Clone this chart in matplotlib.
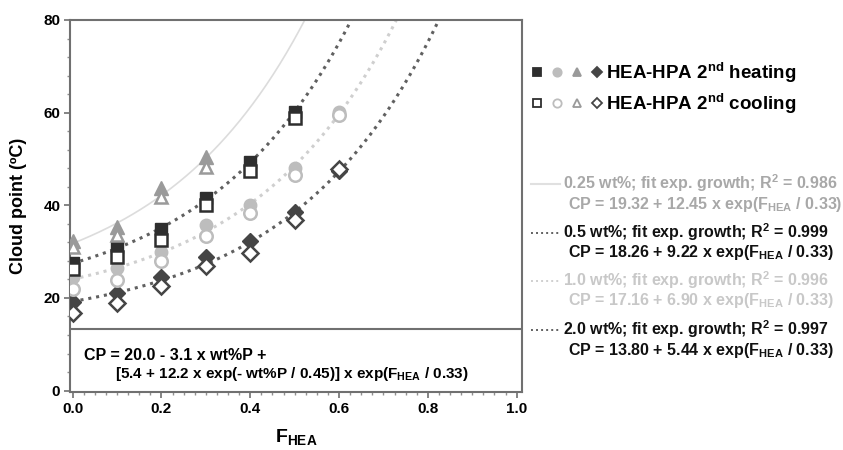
import numpy as np
import matplotlib
matplotlib.use("Agg")
import matplotlib.pyplot as plt
from matplotlib.ticker import MultipleLocator

plt.rcParams['font.family'] = ['Liberation Sans', 'DejaVu Sans']
plt.rcParams['font.weight'] = 'bold'
plt.rcParams['mathtext.fontset'] = 'custom'
plt.rcParams['mathtext.rm'] = 'Liberation Sans:bold'
plt.rcParams['mathtext.bf'] = 'Liberation Sans:bold'
plt.rcParams['mathtext.it'] = 'Liberation Sans:bold'

# ---- data ----
f_tri = [0.0, 0.1, 0.2, 0.3]
tri_heat = [32.3, 35.3, 43.7, 50.5]
tri_cool = [31.0, 33.6, 41.7, 48.3]

f_sq = [0.0, 0.1, 0.2, 0.3, 0.4, 0.5]
sq_heat = [27.6, 31.1, 34.8, 41.5, 49.4, 60.2]
sq_cool = [26.3, 28.9, 32.5, 40.1, 47.3, 58.8]

f_ci = [0.0, 0.1, 0.2, 0.3, 0.4, 0.5, 0.6]
ci_heat = [24.6, 26.5, 30.0, 35.8, 40.1, 48.0, 60.2]
ci_cool = [22.0, 23.9, 27.9, 33.3, 38.3, 46.6, 59.6]

f_di = [0.0, 0.1, 0.2, 0.3, 0.4, 0.5, 0.6]
di_heat = [19.2, 21.0, 24.6, 28.9, 32.2, 38.6, 47.3]
di_cool = [16.8, 18.9, 22.5, 26.8, 29.7, 36.9, 47.8]

# fit parameters (from legend): CP = a + b * exp(F / t)
fit_wt = ['0.25', '0.5', '1.0', '2.0']
fit_a = [19.32, 18.26, 17.16, 13.80]
fit_b = [12.45, 9.22, 6.90, 5.44]
fit_t = [0.33, 0.33, 0.33, 0.33]
fit_r2 = ['0.986', '0.999', '0.996', '0.997']

x_ticks = [0.0, 0.2, 0.4, 0.6, 0.8, 1.0]
y_ticks = [0, 20, 40, 60, 80]

# ---- style ----
c_sq = '#2e2e2e'
c_ci = '#bdbdbd'
c_tri = '#9a9a9a'
c_di = '#454545'
fit_colors = ['#dcdcdc', '#606060', '#cfcfcf', '#606060']
fit_styles = ['-', (0, (1, 1.6)), (0, (1, 1.6)), (0, (1, 1.6))]
fit_lw = [1.2, 2.2, 2.2, 2.2]
text_colors = ['#a8a8a8', '#111111', '#c8c8c8', '#111111']

fig = plt.figure(figsize=(8.43, 4.5), dpi=100)
ax = fig.add_axes([70/843, 1-392/450, (522-70)/843, (392-20)/450])
ax.set_xlim(-0.006, 1.012)
ax.set_ylim(-0.3, 80)

F = np.linspace(0, 1, 400)
for i in range(4):
    ax.plot(F, fit_a[i] + fit_b[i]*np.exp(F/fit_t[i]), color=fit_colors[i],
            ls=fit_styles[i], lw=fit_lw[i], zorder=1)

ms = 9
mew = 1.8
ax.plot(f_tri, tri_heat, ls='none', marker='^', ms=ms+1, color=c_tri, mec=c_tri, zorder=3)
ax.plot(f_tri, tri_cool, ls='none', marker='^', ms=ms, mfc='white', mec=c_tri, mew=mew, zorder=4)
ax.plot(f_sq, sq_heat, ls='none', marker='s', ms=ms, color=c_sq, mec=c_sq, zorder=3)
ax.plot(f_sq, sq_cool, ls='none', marker='s', ms=ms-1, mfc='white', mec=c_sq, mew=mew, zorder=4)
ax.plot(f_ci, ci_heat, ls='none', marker='o', ms=ms, color=c_ci, mec=c_ci, zorder=3)
ax.plot(f_ci, ci_cool, ls='none', marker='o', ms=ms, mfc='white', mec=c_ci, mew=mew, zorder=4)
ax.plot(f_di, di_heat, ls='none', marker='D', ms=ms-1, color=c_di, mec=c_di, zorder=3)
ax.plot(f_di, di_cool, ls='none', marker='D', ms=ms-1, mfc='white', mec=c_di, mew=mew, zorder=4)

ax.axhline(13.4, color='#707070', lw=1.5, zorder=2)
ax.text(0.025, 7.6, 'CP = 20.0 - 3.1 x wt%P +', fontsize=11.5, fontweight='bold', va='center')
ax.text(0.095, 3.6, '[5.4 + 12.2 x exp(- wt%P / 0.45)] x exp(F$_{\\mathrm{HEA}}$ / 0.33)',
        fontsize=11, fontweight='bold', va='center')

for s in ax.spines.values():
    s.set_color('#707070')
    s.set_linewidth(1.5)
ax.set_xticks(x_ticks)
ax.set_xticklabels([f'{v:.1f}' for v in x_ticks])
ax.set_yticks(y_ticks)
ax.set_yticklabels([str(v) for v in y_ticks])
ax.xaxis.set_minor_locator(MultipleLocator(0.025))
ax.yaxis.set_minor_locator(MultipleLocator(4))
ax.tick_params(which='major', length=4, width=1.2, color='#707070', labelsize=11, pad=3)
ax.tick_params(which='minor', length=2.5, width=1.0, color='#909090')
for lab in ax.get_xticklabels() + ax.get_yticklabels():
    lab.set_fontweight('bold')

ax.set_ylabel('Cloud point (ºC)', fontsize=13, fontweight='bold', labelpad=12)
ax.set_xlabel('F$_{\\mathrm{HEA}}$', fontsize=14, fontweight='bold', labelpad=8)

# ---- legend (right side) ----
def fx(px):
    return px / 843
def fy(py):
    return 1 - py / 450

mk_x = [537, 557, 577, 597]
mk_specs = [('s', c_sq), ('o', c_ci), ('^', c_tri), ('D', c_di)]
for row, (py, filled) in enumerate([(72, True), (103, False)]):
    for (m, c), px in zip(mk_specs, mk_x):
        fig.lines.append(matplotlib.lines.Line2D([fx(px)], [fy(py)], ls='none', marker=m,
                         ms=6 if m != 'D' else 5.5, mfc=c if filled else 'white', mec=c,
                         mew=1.3, transform=fig.transFigure))
fig.text(fx(606), fy(73), 'HEA-HPA 2$^{\\mathrm{nd}}$ heating', fontsize=13.5, fontweight='bold', va='center')
fig.text(fx(606), fy(104), 'HEA-HPA 2$^{\\mathrm{nd}}$ cooling', fontsize=13.5, fontweight='bold', va='center')

leg_y = [183, 232, 280, 329]
for i in range(4):
    y0 = leg_y[i]
    fig.lines.append(matplotlib.lines.Line2D([fx(531), fx(560)], [fy(y0 + 1), fy(y0 + 1)],
                     color=fit_colors[i] if i != 0 else '#e0e0e0', ls=fit_styles[i],
                     lw=1.4 if i != 0 else 1.5, transform=fig.transFigure))
    fig.text(fx(563), fy(y0), f'{fit_wt[i]} wt%; fit exp. growth; R$^{{2}}$ = {fit_r2[i]}',
             fontsize=11.5, fontweight='bold', va='center', color=text_colors[i])
    fig.text(fx(568), fy(y0 + 21),
             f'CP = {fit_a[i]:.2f} + {fit_b[i]:.2f} x exp(F$_{{\\mathrm{{HEA}}}}$ / {fit_t[i]:.2f})',
             fontsize=11.5, fontweight='bold', va='center', color=text_colors[i])

fig.savefig('out.png', dpi=100)
